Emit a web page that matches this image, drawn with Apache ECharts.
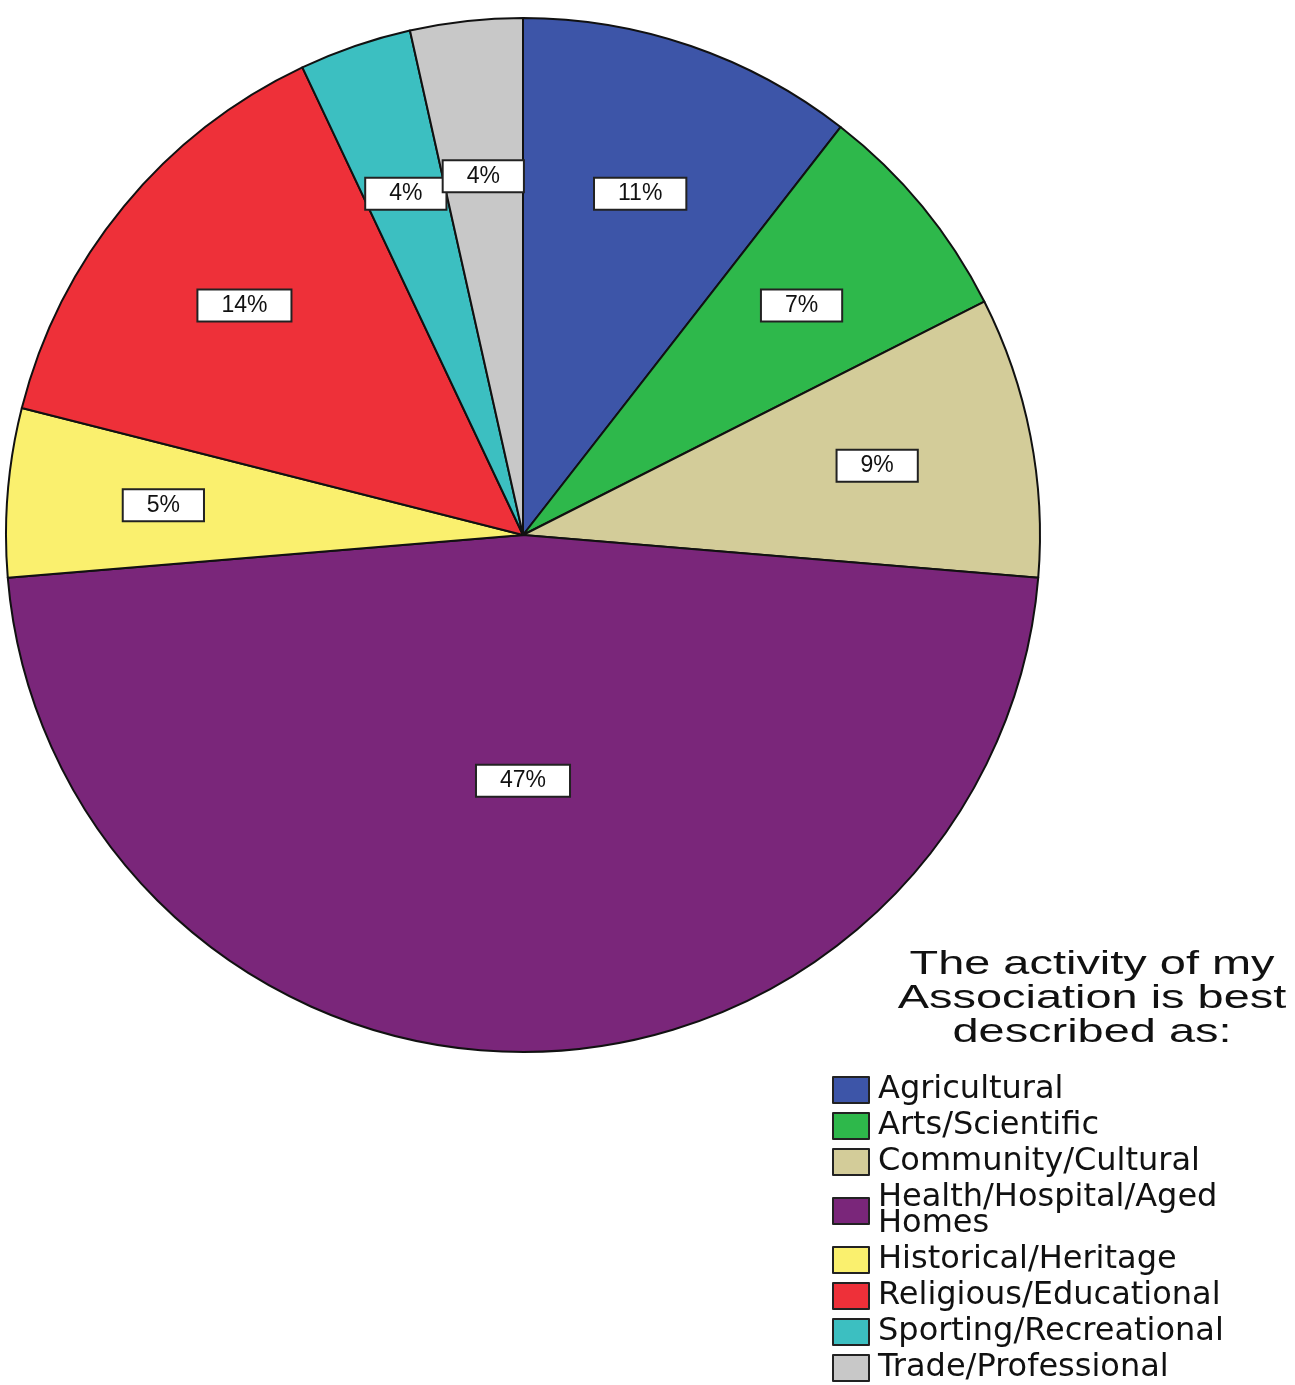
<!DOCTYPE html>
<html>
<head>
<meta charset="utf-8">
<title>The activity of my Association</title>
<script src="https://cdn.jsdelivr.net/npm/echarts@6/dist/echarts.min.js"></script>
<style>
  html, body { margin: 0; padding: 0; background: #ffffff; }
  #chart { width: 1295px; height: 1385px; }
</style>
</head>
<body>
<div id="chart"></div>
<script>
// Survey answers: number of associations per activity type
const categories = [
  'Agricultural',
  'Arts/Scientific',
  'Community/Cultural',
  'Health/Hospital/Aged\nHomes',
  'Historical/Heritage',
  'Religious/Educational',
  'Sporting/Recreational',
  'Trade/Professional'
];
const counts = [6, 4, 5, 27, 3, 8, 2, 2];
const sliceColors = ['#3d55a8', '#2eb84b', '#d3cc99', '#7a267a', '#faf06e', '#ee3039', '#3cbfc1', '#c8c8c8'];
const legendTitle = 'The activity of my\nAssociation is best\ndescribed as:';

const CX = 523, CY = 535, R = 517;

const chart = echarts.init(document.getElementById('chart'), null, { renderer: 'canvas' });

const data = categories.map((name, i) => ({
  name: name,
  value: counts[i],
  itemStyle: { color: sliceColors[i] }
}));

chart.setOption({
  backgroundColor: '#ffffff',
  animation: false,
  graphic: [{
    type: 'text',
    x: 1092,
    y: 948,
    scaleX: 1.38,
    style: {
      text: legendTitle,
      font: '34px "Liberation Sans", Arial, sans-serif',
      fill: '#111111',
      textAlign: 'center',
      textVerticalAlign: 'top',
      lineHeight: 34
    }
  }],
  legend: {
    orient: 'vertical',
    left: 832,
    top: 1074,
    padding: 0,
    itemWidth: 36,
    itemHeight: 26,
    itemGap: 4,
    icon: 'rect',
    selectedMode: false,
    itemStyle: { borderColor: '#222222', borderWidth: 2 },
    textStyle: {
      fontFamily: '"DejaVu Sans", sans-serif',
      fontSize: 32,
      lineHeight: 26,
      color: '#111111',
      padding: [0, 0, 0, 4]
    },
    data: categories
  },
  series: [{
    type: 'pie',
    center: [CX, CY],
    radius: [0, R],
    startAngle: 90,
    clockwise: true,
    avoidLabelOverlap: false,
    data: data,
    itemStyle: { borderColor: '#111111', borderWidth: 2 },
    emphasis: { disabled: true },
    label: {
      show: true,
      position: 'inside',
      formatter: p => Math.round(p.percent) + '%',
      fontFamily: '"Liberation Sans", Arial, sans-serif',
      fontSize: 23,
      lineHeight: 24,
      color: '#111111',
      backgroundColor: '#ffffff',
      borderColor: '#222222',
      borderWidth: 2,
      padding: [3, 23]
    },
    labelLine: { show: false },
    // push labels outward along their slice; the dominant slice keeps its label nearer the centre
    labelLayout: function (p) {
      const r = p.labelRect;
      const lx = r.x + r.width / 2;
      const ly = r.y + r.height / 2;
      const share = counts[p.dataIndex] / counts.reduce((a, b) => a + b, 0);
      const k = share > 0.4 ? 0.94 : 1.38;
      return { x: CX + (lx - CX) * k, y: CY + (ly - CY) * k };
    }
  }]
});
</script>
</body>
</html>
